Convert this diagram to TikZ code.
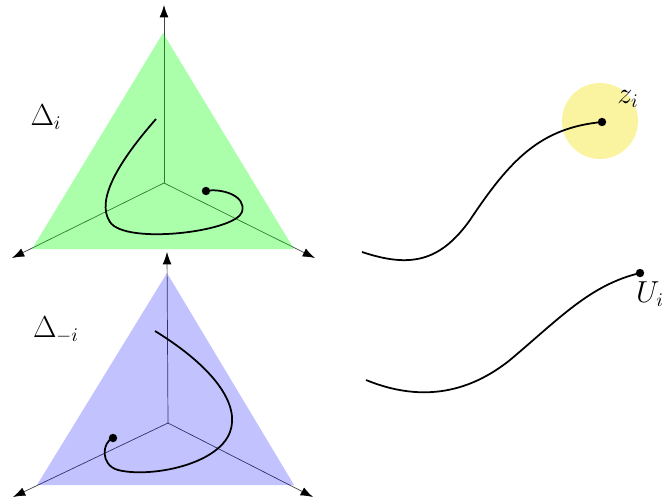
\documentclass[tikz,border=0pt]{standalone}
\usetikzlibrary{arrows.meta}
\definecolor{paleyellow}{RGB}{250,244,160}
\begin{document}
\begin{tikzpicture}[x=0.02cm,y=-0.02cm]
\tikzset{axis/.style={-{Latex[length=7pt,width=5pt,color=black]}, black!75},
  curve/.style={line width=1pt},
  lbl/.style={font=\fontsize{16}{19}\selectfont}}
\useasboundingbox (0,0) rectangle (663,501);
\coordinate (o1) at (164,183);
\coordinate (a1) at (164,5);
\coordinate (b1) at (12,258);
\coordinate (c1) at (315,258);
\coordinate (o2) at (168,423);
\coordinate (a2) at (167,252);
\coordinate (b2) at (13,497);
\coordinate (c2) at (313,497);
\draw[axis] (o1) -- (a1);
\draw[axis] (o1) -- (b1);
\draw[axis] (o1) -- (c1);
\draw[axis] (o2) -- (a2);
\draw[axis] (o2) -- (b2);
\draw[axis] (o2) -- (c2);
\fill[green, fill opacity=0.33] (163,33) -- (32,249) -- (294,249) -- cycle;
\fill[blue, fill opacity=0.24] (167,273) -- (37,485) -- (294,485) -- cycle;
\fill[paleyellow] (600,121) circle (0.76cm);
\node[lbl] (di) at (46,117) {$\Delta_i$};
\node[lbl] (dmi) at (56,330) {$\Delta_{-i}$};
\node[lbl] (zi) at (628,99) {$z_i$};
\node[lbl, inner sep=0pt] (ui) at (650,294) {$U_i$};
\draw[curve] (156,119) .. controls (120,160) and (95,200) .. (110,222) .. controls (125,245) and (235,232) .. (242,212) .. controls (247,195) and (220,188) .. (206,191);
\fill (206,191) circle (2.4pt);
\draw[curve] (155,331) .. controls (215,368) and (240,405) .. (230,432) .. controls (218,465) and (150,478) .. (118,470) .. controls (100,465) and (102,442) .. (113,438);
\fill (113,438) circle (2.4pt);
\draw[curve] (362,252) .. controls (410,268) and (440,262) .. (470,220) .. controls (510,160) and (540,128) .. (602,122);
\fill (602,122) circle (2.4pt);
\draw[curve] (366,380) .. controls (410,398) and (460,400) .. (510,360) .. controls (560,318) and (590,285) .. (640,273);
\fill (640,273) circle (2.4pt);
\end{tikzpicture}
\end{document}
